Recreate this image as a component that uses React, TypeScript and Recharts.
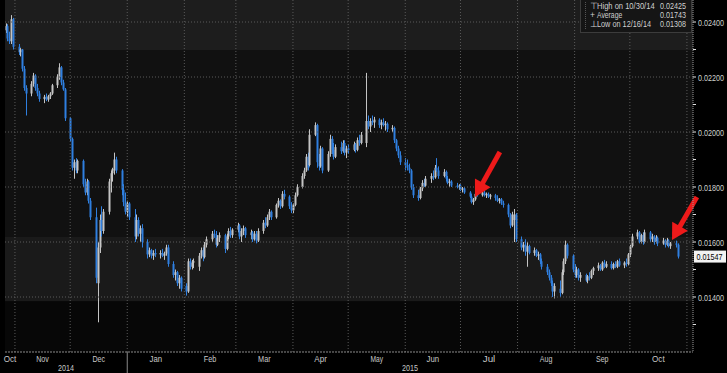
import { ComposedChart, Bar, XAxis, YAxis, ReferenceArea, ReferenceLine } from "recharts"

// prices in units of 0.00001, one entry per trading day from Mon 27 Oct 2014
const OPEN = [
  2370, 2385, 2340, 2330, 2410,
  2310, 2290, 2300, 2230, 2160,
  2140, 2175, 2205, 2160, 2140,
  2120, 2128, 2118, 2130, 2140,
  2170, 2200, 2235, 2180, 2155,
  2050, 1975, 1870, 1890, 1860,
  1895, 1810, 1780, 1820, 1750,
  1690, 1450, 1580, 1680, 1640,
  1710, 1820, 1850, 1860, 1900,
  1860, 1790, 1745, 1710, 1740,
  1690, 1620, 1680, 1630, 1650,
  1600, 1555, 1570, 1550, 1560,
  1555, 1560, 1550, 1558, 1580,
  1520, 1480, 1490, 1450, 1470,
  1440, 1420, 1530, 1510, 1525,
  1510, 1550, 1570, 1545, 1590,
  1610, 1630, 1625, 1590, 1615,
  1625, 1575, 1620, 1640, 1625,
  1645, 1660, 1620, 1640, 1650,
  1625, 1635, 1610, 1630, 1605,
  1640, 1670, 1660, 1690, 1710,
  1690, 1735, 1750, 1730, 1775,
  1765, 1730, 1715, 1735, 1770,
  1800, 1840, 1860, 1910, 1880,
  1990, 2025, 1890, 1875, 1940,
  1860, 1920, 1975, 1935, 1910,
  1945, 1930, 1960, 1925, 1940,
  1935, 1955, 1935, 1970, 1960,
  1960, 2040, 2020, 2040, 2035,
  2045, 2025, 2035, 2025, 2030,
  2010, 2015, 1970, 1940, 1915,
  1890, 1880, 1870, 1860, 1800,
  1770, 1760, 1795, 1815, 1805,
  1830, 1840, 1835, 1870, 1860,
  1840, 1855, 1830, 1815, 1820,
  1805, 1800, 1805, 1790, 1795,
  1780, 1765, 1745, 1755, 1775,
  1770, 1780, 1770, 1775, 1765,
  1770, 1760, 1750, 1755, 1740,
  1735, 1700, 1660, 1680, 1700,
  1610, 1580, 1590, 1565, 1585,
  1560, 1570, 1550, 1555, 1530,
  1510, 1490, 1470, 1450, 1420,
  1430, 1415, 1490, 1530, 1590,
  1550, 1500, 1480, 1500, 1470,
  1480, 1460, 1475, 1470, 1495,
  1505, 1515, 1500, 1525, 1510,
  1520, 1505, 1520, 1510, 1530,
  1515, 1525, 1520, 1555, 1585,
  1620, 1635, 1600, 1625, 1600,
  1635, 1610, 1620, 1600, 1615,
  1595, 1605, 1590, 1605, 1585,
  1595, 1590,
]

const HIGH = [
  2395, 2392, 2365, 2425, 2415,
  2320, 2305, 2302, 2240, 2170,
  2185, 2215, 2210, 2175, 2150,
  2135, 2140, 2135, 2145, 2175,
  2210, 2250, 2240, 2190, 2160,
  2055, 1980, 1900, 1905, 1900,
  1900, 1830, 1830, 1825, 1760,
  1725, 1600, 1700, 1730, 1720,
  1830, 1860, 1870, 1925, 1910,
  1865, 1810, 1780, 1750, 1745,
  1720, 1700, 1690, 1660, 1665,
  1610, 1580, 1575, 1570, 1575,
  1570, 1575, 1565, 1590, 1590,
  1530, 1500, 1495, 1480, 1475,
  1450, 1540, 1540, 1535, 1540,
  1560, 1580, 1580, 1600, 1620,
  1640, 1645, 1640, 1625, 1635,
  1630, 1630, 1650, 1655, 1650,
  1670, 1665, 1650, 1660, 1655,
  1645, 1640, 1640, 1640, 1650,
  1680, 1690, 1700, 1720, 1715,
  1740, 1760, 1755, 1785, 1790,
  1770, 1745, 1740, 1780, 1810,
  1850, 1870, 1920, 1925, 2010,
  2035, 2030, 1920, 1950, 1945,
  1930, 1990, 1985, 1960, 1955,
  1965, 1970, 1970, 1950, 1955,
  1965, 1960, 1980, 1990, 2000,
  2215, 2060, 2050, 2060, 2055,
  2050, 2045, 2050, 2040, 2035,
  2025, 2020, 1975, 1950, 1930,
  1905, 1900, 1885, 1865, 1810,
  1790, 1800, 1825, 1830, 1840,
  1850, 1860, 1880, 1905, 1875,
  1865, 1860, 1840, 1830, 1825,
  1815, 1810, 1810, 1800, 1800,
  1785, 1775, 1760, 1780, 1785,
  1785, 1790, 1780, 1780, 1775,
  1775, 1770, 1760, 1760, 1750,
  1740, 1705, 1710, 1720, 1705,
  1620, 1600, 1610, 1600, 1590,
  1580, 1575, 1565, 1560, 1540,
  1520, 1500, 1480, 1460, 1450,
  1460, 1500, 1540, 1605, 1595,
  1555, 1520, 1510, 1505, 1490,
  1485, 1480, 1490, 1500, 1510,
  1525, 1520, 1530, 1535, 1530,
  1530, 1525, 1530, 1535, 1540,
  1530, 1540, 1560, 1590, 1630,
  1645, 1640, 1630, 1635, 1645,
  1640, 1630, 1625, 1625, 1620,
  1615, 1610, 1615, 1610, 1600,
  1605, 1595,
]

const LOW = [
  2360, 2330, 2320, 2320, 2300,
  2280, 2275, 2220, 2150, 2060,
  2130, 2165, 2150, 2130, 2110,
  2105, 2112, 2110, 2120, 2135,
  2160, 2190, 2170, 2150, 2040,
  1965, 1860, 1830, 1850, 1850,
  1800, 1770, 1770, 1740, 1680,
  1450, 1308, 1560, 1620, 1630,
  1700, 1780, 1820, 1845, 1850,
  1770, 1730, 1700, 1690, 1680,
  1600, 1610, 1620, 1600, 1580,
  1540, 1545, 1540, 1535, 1545,
  1540, 1545, 1535, 1550, 1510,
  1470, 1460, 1440, 1430, 1420,
  1405, 1415, 1500, 1500, 1505,
  1495, 1540, 1530, 1540, 1580,
  1600, 1615, 1580, 1585, 1600,
  1560, 1570, 1610, 1615, 1615,
  1635, 1610, 1600, 1625, 1615,
  1610, 1600, 1605, 1595, 1600,
  1630, 1650, 1655, 1680, 1680,
  1685, 1725, 1720, 1725, 1755,
  1720, 1705, 1705, 1730, 1765,
  1795, 1830, 1855, 1860, 1875,
  1985, 1870, 1860, 1870, 1850,
  1855, 1910, 1920, 1900, 1905,
  1920, 1925, 1915, 1905, 1920,
  1930, 1925, 1930, 1950, 1955,
  1945, 2010, 2000, 2025, 2015,
  2015, 2010, 2020, 2005, 2000,
  2000, 1960, 1930, 1905, 1880,
  1860, 1860, 1850, 1790, 1760,
  1750, 1755, 1785, 1800, 1800,
  1815, 1825, 1830, 1855, 1830,
  1835, 1820, 1810, 1800, 1800,
  1795, 1790, 1785, 1780, 1775,
  1760, 1740, 1735, 1750, 1765,
  1765, 1765, 1760, 1760, 1755,
  1750, 1745, 1740, 1735, 1725,
  1690, 1650, 1655, 1600, 1600,
  1570, 1565, 1550, 1510, 1555,
  1550, 1545, 1535, 1520, 1500,
  1480, 1460, 1440, 1400, 1395,
  1400, 1410, 1480, 1520, 1540,
  1490, 1470, 1470, 1460, 1455,
  1455, 1450, 1460, 1465, 1480,
  1495, 1495, 1495, 1505, 1505,
  1500, 1500, 1505, 1505, 1510,
  1505, 1510, 1515, 1545, 1580,
  1610, 1595, 1595, 1590, 1595,
  1600, 1600, 1590, 1595, 1585,
  1590, 1580, 1585, 1580, 1575,
  1580, 1540,
]

const CLOSE = [
  2385, 2340, 2330, 2410, 2310,
  2290, 2300, 2230, 2160, 2140,
  2175, 2205, 2160, 2140, 2120,
  2128, 2118, 2130, 2140, 2170,
  2200, 2235, 2180, 2155, 2050,
  1975, 1870, 1890, 1860, 1895,
  1810, 1780, 1820, 1750, 1690,
  1470, 1580, 1680, 1640, 1710,
  1820, 1850, 1865, 1900, 1860,
  1790, 1745, 1710, 1740, 1690,
  1620, 1680, 1630, 1650, 1600,
  1555, 1570, 1550, 1560, 1555,
  1560, 1550, 1558, 1580, 1520,
  1480, 1490, 1450, 1470, 1430,
  1420, 1530, 1510, 1525, 1530,
  1550, 1570, 1545, 1590, 1610,
  1630, 1625, 1590, 1615, 1625,
  1575, 1620, 1640, 1625, 1645,
  1660, 1620, 1640, 1650, 1625,
  1635, 1610, 1630, 1605, 1640,
  1670, 1660, 1690, 1710, 1690,
  1735, 1750, 1730, 1775, 1765,
  1730, 1715, 1735, 1770, 1800,
  1840, 1860, 1910, 1870, 1990,
  2025, 1890, 1875, 1940, 1860,
  1920, 1975, 1935, 1910, 1945,
  1930, 1960, 1925, 1940, 1935,
  1955, 1935, 1970, 1960, 1990,
  2040, 2020, 2040, 2035, 2045,
  2025, 2035, 2025, 2030, 2010,
  2015, 1970, 1940, 1915, 1890,
  1880, 1870, 1860, 1800, 1770,
  1760, 1795, 1815, 1805, 1830,
  1840, 1835, 1870, 1860, 1840,
  1855, 1830, 1815, 1820, 1805,
  1800, 1805, 1790, 1795, 1780,
  1765, 1745, 1755, 1775, 1770,
  1780, 1770, 1775, 1765, 1770,
  1760, 1750, 1755, 1740, 1735,
  1700, 1660, 1700, 1700, 1610,
  1580, 1590, 1565, 1585, 1560,
  1570, 1550, 1555, 1530, 1510,
  1490, 1470, 1450, 1420, 1440,
  1415, 1490, 1530, 1590, 1550,
  1500, 1480, 1500, 1470, 1480,
  1460, 1475, 1470, 1495, 1505,
  1515, 1500, 1525, 1510, 1520,
  1505, 1520, 1510, 1530, 1515,
  1525, 1520, 1555, 1585, 1620,
  1635, 1600, 1625, 1600, 1635,
  1610, 1620, 1600, 1615, 1595,
  1605, 1590, 1605, 1585, 1595,
  1590, 1547,
]

const MONTH_LABELS = ["Oct", "Nov", "Dec", "Jan", "Feb", "Mar", "Apr", "May", "Jun", "Jul", "Aug", "Sep", "Oct"]
const YEAR_LABELS = ["2014", "2015"]
const PRICE_TICKS = [1300, 1400, 1500, 1600, 1700, 1800, 1900, 2000, 2100, 2200, 2300, 2400]
const LAST_PRICE = 1547
const BAND_EDGES = [1200, 1385, 1618, 2298, 2480]
const LEGEND_ROWS = [
  ["\u22A4", "High on 10/30/14", "0.02425"],
  ["+", "Average", "0.01743"],
  ["\u22A5", "Low on 12/16/14", "0.01308"],
]
// red annotation arrows, [day, price] of tail and tip
const ARROWS = [
  { from: [263.4, 1927], to: [249.9, 1764] },
  { from: [370.4, 1764], to: [356.9, 1607] },
]

const DAY = 86400000
const ORIGIN = Date.UTC(2014, 10, 1)
const START = Date.UTC(2014, 9, 27)
const X_DOMAIN = [-5.4, 368.3]
const FONT = '"Liberation Sans", Arial, sans-serif'
const BAND_FILLS = ["#070707", "#1a1a1a", "#111111", "#1d1d1d"]

const dayOf = (y: number, m: number, d: number) => (Date.UTC(y, m, d) - ORIGIN) / DAY

const tradingDays: number[] = []
for (let d = START; tradingDays.length < CLOSE.length; d += DAY) {
  const wd = new Date(d).getUTCDay()
  if (wd !== 0 && wd !== 6) tradingDays.push((d - ORIGIN) / DAY)
}

const rows = CLOSE.map((c, i) => ({
  t: tradingDays[i],
  open: OPEN[i],
  high: HIGH[i],
  low: LOW[i],
  close: c,
  range: [LOW[i], HIGH[i]],
}))

const monthStarts: number[] = []
const monthTicks: number[] = []
MONTH_LABELS.forEach((_, i) => {
  const y = 2014 + Math.floor((9 + i) / 12)
  const m = (9 + i) % 12
  const s = dayOf(y, m, 1)
  const e = dayOf(y, m + 1, 1)
  monthStarts.push(e)
  monthTicks.push((Math.max(s, X_DOMAIN[0]) + Math.min(e, X_DOMAIN[1])) / 2)
})
const jan1 = dayOf(2015, 0, 1)
const yearTicks = [(X_DOMAIN[0] + jan1) / 2, jan1, (jan1 + X_DOMAIN[1]) / 2]

const fmt = (v: number) => (v / 100000).toFixed(5)

function Candle(props: any) {
  const { x, y, width, height, payload } = props
  if (!payload) return null
  const { open, close, high, low } = payload
  const color = close >= open ? "#c4c4c4" : "#2f7fdf"
  const top = Math.min(y, y + height)
  const h = Math.abs(height)
  const cx = Math.round(x + width / 2)
  const span = high - low || 1
  const py = (v: number) => top + ((high - v) / span) * h
  const bTop = py(Math.max(open, close))
  const bBot = py(Math.min(open, close))
  return (
    <g>
      <line x1={cx + 0.5} x2={cx + 0.5} y1={top} y2={top + h} stroke={color} strokeWidth={1} />
      <rect x={cx - 0.5} y={bTop} width={2} height={Math.max(1, bBot - bTop)} fill={color} />
    </g>
  )
}

function Arrow(props: any) {
  const { x1, y1, x2, y2 } = props
  const dx = x2 - x1
  const dy = y2 - y1
  const len = Math.hypot(dx, dy) || 1
  const ux = dx / len
  const uy = dy / len
  const hl = 16
  const hw = 9
  const bx = x2 - ux * hl
  const by = y2 - uy * hl
  return (
    <g>
      <line x1={x1} y1={y1} x2={bx + ux * 2} y2={by + uy * 2} stroke="#ee1a1a" strokeWidth={5} />
      <polygon
        points={`${x2},${y2} ${bx - uy * hw},${by + ux * hw} ${bx + uy * hw},${by - ux * hw}`}
        fill="#ee1a1a"
      />
    </g>
  )
}

function MonthTick({ x, y, index }: any) {
  const label = MONTH_LABELS[index]
  return (
    <text
      x={x}
      y={y + 9.5}
      textAnchor="middle"
      fill="#c8c8c8"
      fontSize={9}
      fontFamily={FONT}
      textLength={label.length * 4.2}
      lengthAdjust="spacingAndGlyphs"
    >
      {label}
    </text>
  )
}

function YearTick({ x, y, index }: any) {
  if (index === 1) return <line x1={x} x2={x} y1={y - 12} y2={y + 10} stroke="#8a8a8a" />
  return (
    <text
      x={x}
      y={y + 6.5}
      textAnchor="middle"
      fill="#c8c8c8"
      fontSize={9}
      fontFamily={FONT}
      textLength={16}
      lengthAdjust="spacingAndGlyphs"
    >
      {YEAR_LABELS[index === 0 ? 0 : 1]}
    </text>
  )
}

function PriceTick({ x, y, payload }: any) {
  const v = payload.value
  if (v === LAST_PRICE) {
    return (
      <g>
        <rect x={x + 1} y={y - 6} width={32} height={12} fill="#f2f2f2" />
        <text x={x + 3.5} y={y + 3.5} fontSize={8.5} fill="#000" fontFamily={FONT} textLength={26} lengthAdjust="spacingAndGlyphs">
          {fmt(v)}
        </text>
      </g>
    )
  }
  const major = v % 200 === 0
  return (
    <g>
      <line x1={x} x2={x + 3} y1={y} y2={y} stroke="#e0e0e0" />
      {major && (
        <text x={x + 5} y={y + 3.5} fontSize={8.5} fill="#d0d0d0" fontFamily={FONT} textLength={26} lengthAdjust="spacingAndGlyphs">
          {fmt(v)}
        </text>
      )}
    </g>
  )
}

function StatsBox() {
  return (
    <svg width={112} height={33} style={{ position: "absolute", left: 580, top: 0 }}>
      <rect x={0.5} y={-1} width={111} height={33.5} fill="#151515" stroke="#3c3c3c" />
      <line x1={5.5} x2={5.5} y1={2} y2={30} stroke="#555" strokeDasharray="1 1" />
      {LEGEND_ROWS.map((r, i) => (
        <g key={r[1]} fontFamily={FONT} fontSize={8.5} fill="#d0d0d0">
          <text x={10} y={9 + i * 9}>{r[0]}</text>
          <text x={17} y={9 + i * 9} textLength={r[1].length * 3.6} lengthAdjust="spacingAndGlyphs">
            {r[1]}
          </text>
          <text x={106} y={9 + i * 9} textAnchor="end" textLength={26} lengthAdjust="spacingAndGlyphs">
            {r[2]}
          </text>
        </g>
      ))}
    </svg>
  )
}

export default function App() {
  return (
    <div style={{ position: "absolute", left: 0, top: 0, width: 727, height: 373, background: "#000", overflow: "hidden" }}>
      <ComposedChart width={727} height={373} data={rows} margin={{ top: 0, right: 0, left: 5, bottom: 0 }}>
        <XAxis
          dataKey="t"
          type="number"
          domain={X_DOMAIN}
          allowDataOverflow
          ticks={monthTicks}
          interval={0}
          tick={<MonthTick />}
          tickLine={false}
          tickSize={0}
          tickMargin={0}
          height={12}
          axisLine={{ stroke: "#8a8a8a", strokeDasharray: "2 1" }}
        />
        <XAxis
          xAxisId="yr"
          dataKey="t"
          type="number"
          domain={X_DOMAIN}
          allowDataOverflow
          ticks={yearTicks}
          interval={0}
          tick={<YearTick />}
          tickLine={false}
          tickSize={0}
          tickMargin={0}
          height={9}
          axisLine={false}
        />
        <YAxis
          orientation="right"
          width={34}
          domain={[BAND_EDGES[0], BAND_EDGES[BAND_EDGES.length - 1]]}
          allowDataOverflow
          ticks={[...PRICE_TICKS, LAST_PRICE]}
          interval={0}
          tick={<PriceTick />}
          tickLine={false}
          tickSize={0}
          tickMargin={0}
          axisLine={{ stroke: "#9a9a9a", strokeDasharray: "1 1" }}
        />
        {BAND_FILLS.map((f, i) => (
          <ReferenceArea key={"b" + i} y1={BAND_EDGES[i]} y2={BAND_EDGES[i + 1]} fill={f} fillOpacity={1} stroke="none" />
        ))}
        {PRICE_TICKS.filter((v) => v % 200 === 0).map((v) => (
          <ReferenceLine key={"h" + v} y={v} stroke="#5a5a5a" strokeDasharray="1 2" />
        ))}
        {monthStarts.map((t) => (
          <ReferenceLine key={"v" + t} x={t} stroke="#5a5a5a" strokeDasharray="1 2" />
        ))}
        <Bar dataKey="range" barSize={2} shape={(p: any) => <Candle {...p} />} isAnimationActive={false} />
        {ARROWS.map((a, i) => (
          <ReferenceLine
            key={"a" + i}
            segment={[
              { x: a.from[0], y: a.from[1] },
              { x: a.to[0], y: a.to[1] },
            ]}
            ifOverflow="visible"
            shape={(p: any) => <Arrow {...p} />}
          />
        ))}
      </ComposedChart>
      <StatsBox />
    </div>
  )
}
